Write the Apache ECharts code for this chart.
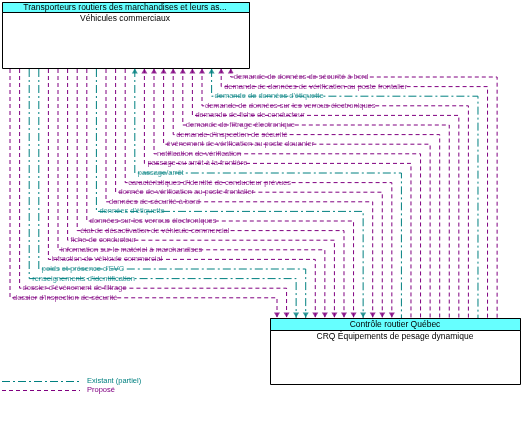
<!DOCTYPE html><html><head><meta charset="utf-8"><script src="https://cdn.jsdelivr.net/npm/echarts@6/dist/echarts.min.js"></script>
<style>html,body{margin:0;padding:0;background:#fff}#c{width:527px;height:431px}</style></head><body><div id="c"></div><script>
const flows=["demande de données de sécurité à bord","demande de données de vérification au poste frontalier","demande de données d'étiquette","demande de données sur les verrous électroniques","demande de fiche de conducteur","demande de filtrage électronique","demande d'inspection de sécurité","événement de vérification au poste douanier","notification de vérification","passage ou arrêt à la frontière","passage/arrêt","caractéristiques d'identité de conducteur prévues","donnée de vérification au poste frontalier","données de sécurité à bord","données d'étiquette","données sur les verrous électroniques","état de désactivation de véhicule commercial","fiche de conducteur","information sur le matériel à marchandises","infraction de véhicule commercial","poids et présence d'EVC","renseignements d'identification","dossier d'événement de filtrage","dossier d'inspection de sécurité"];
const status=["p","p","e","p","p","p","p","p","p","p","e","p","p","p","e","p","p","p","p","p","e","e","p","p"];
const toVehicle=[1,1,1,1,1,1,1,1,1,1,1,0,0,0,0,0,0,0,0,0,0,0,0,0];
const P='#800080',E='#008080';
const series=[];const N=flows.length;
const arrowsUp=[],arrowsDown=[];
flows.forEach((f,k)=>{
 const xl=10+9.6*(N-1-k), xr=277+9.57*(N-1-k), y=77+9.6*k;
 const col=status[k]==='e'?E:P;
 series.push({type:'line',data:[[xl,69],[xl,y],[xr,y],[xr,318]],symbol:'none',silent:true,
  lineStyle:{color:col,width:1,type:status[k]==='e'?[8,3,2,3]:[4,3]}});
 series.push({type:'scatter',data:[[xl+2,y]],symbolSize:0,silent:true,
  label:{show:true,position:'right',distance:0,formatter:f,color:col,fontSize:7.5,fontFamily:'Liberation Sans',backgroundColor:'#fff',padding:[0,1]}});
 if(toVehicle[k]) arrowsUp.push({value:[xl,71],itemStyle:{color:col}});
 else arrowsDown.push({value:[xr,315],itemStyle:{color:col}});
});
series.push({type:'scatter',data:arrowsUp,symbol:'triangle',symbolSize:[6,5],silent:true});
series.push({type:'scatter',data:arrowsDown,symbol:'triangle',symbolRotate:180,symbolSize:[6,5],silent:true});
const c=echarts.init(document.getElementById('c'));
c.setOption({animation:false,grid:{left:0,right:0,top:0,bottom:0},
 xAxis:{type:'value',min:0,max:527,show:false},yAxis:{type:'value',min:0,max:431,inverse:true,show:false},
 series:series,
 graphic:[
  {type:'rect',shape:{x:2.5,y:2.5,width:247,height:66},style:{fill:'#fff',stroke:'#000',lineWidth:1},z:1},
  {type:'rect',shape:{x:2.5,y:2.5,width:247,height:10},style:{fill:'#66ffff',stroke:'#000',lineWidth:1},z:2},
  {type:'text',x:125,y:3,style:{text:'Transporteurs routiers des marchandises et leurs as...',font:'8.5px Liberation Sans',fill:'#000',align:'center'},z:3},
  {type:'text',x:125,y:14,style:{text:'Véhicules commerciaux',font:'8.5px Liberation Sans',fill:'#000',align:'center'},z:3},
  {type:'rect',shape:{x:270.5,y:318.5,width:250,height:66},style:{fill:'#fff',stroke:'#000',lineWidth:1},z:1},
  {type:'rect',shape:{x:270.5,y:318.5,width:250,height:12},style:{fill:'#66ffff',stroke:'#000',lineWidth:1},z:2},
  {type:'text',x:395,y:320,style:{text:'Contrôle routier Québec',font:'8.5px Liberation Sans',fill:'#000',align:'center'},z:3},
  {type:'text',x:395,y:332,style:{text:'CRQ Équipements de pesage dynamique',font:'8.5px Liberation Sans',fill:'#000',align:'center'},z:3},
  {type:'line',shape:{x1:2,y1:381.5,x2:80,y2:381.5},style:{stroke:E,lineWidth:1,lineDash:[8,3,2,3]}},
  {type:'text',x:87,y:377,style:{text:'Existant (partiel)',font:'7.5px Liberation Sans',fill:E}},
  {type:'line',shape:{x1:2,y1:390.5,x2:80,y2:390.5},style:{stroke:P,lineWidth:1,lineDash:[4,3]}},
  {type:'text',x:87,y:386,style:{text:'Proposé',font:'7.5px Liberation Sans',fill:P}}
 ]});
</script></body></html>
